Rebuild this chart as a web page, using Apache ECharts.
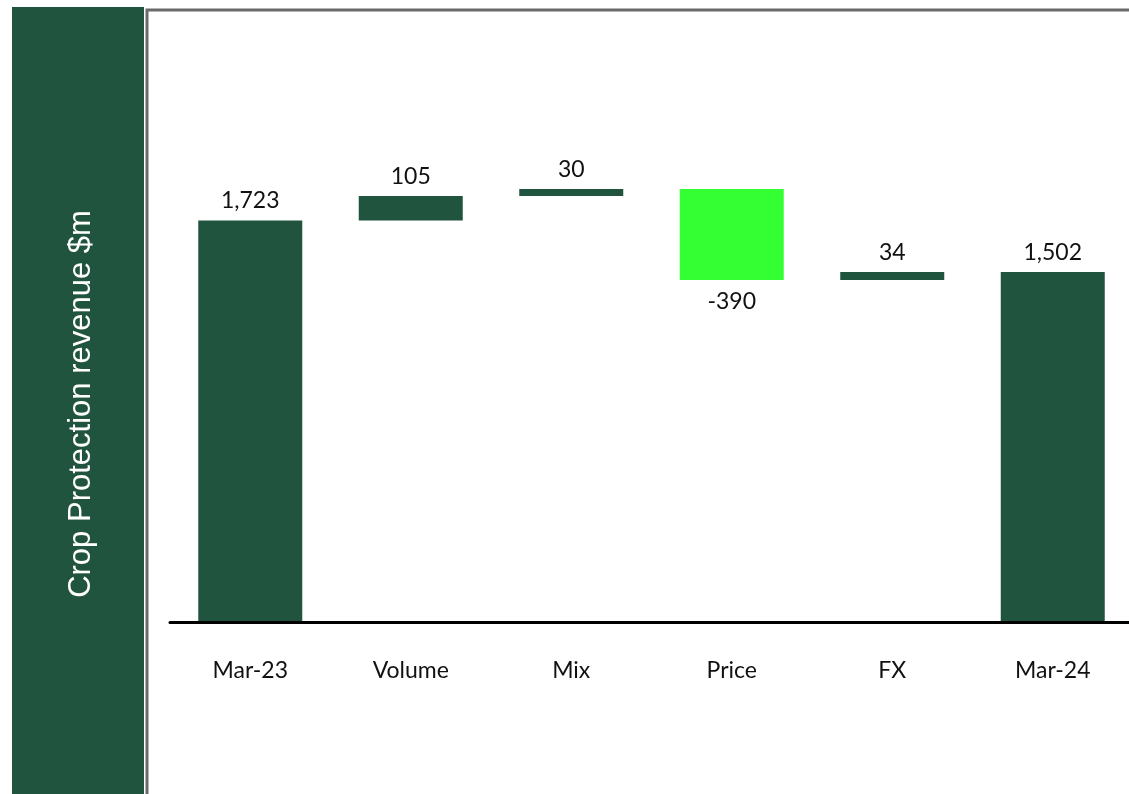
<!DOCTYPE html>
<html>
<head>
<meta charset="utf-8">
<script src="https://cdn.jsdelivr.net/npm/echarts@6/dist/echarts.min.js"></script>
<style>
  html, body { margin: 0; padding: 0; background: #fff; overflow: hidden; }
  #chart { width: 1133px; height: 794px; }
</style>
</head>
<body>
<div id="chart"></div>
<script>
// waterfall data
var categories = ['Mar-23', 'Volume', 'Mix', 'Price', 'FX', 'Mar-24'];
var changes = [1723, 105, 30, -390, 34, 1502];
var isTotal = [true, false, false, false, false, true];
var axisTitle = 'Crop Protection revenue $m';

var darkGreen = '#21543f';
var brightGreen = '#33ff33';

// build the invisible base + visible pieces
var baseData = [], upData = [], downData = [];
var running = 0;
for (var i = 0; i < changes.length; i++) {
	var v = changes[i];
	if (isTotal[i]) {
		baseData.push(0);
		upData.push(v);
		downData.push('-');
		running = v;
	} else if (v >= 0) {
		baseData.push(running);
		upData.push(v);
		downData.push('-');
		running += v;
	} else {
		running += v;
		baseData.push(running);
		upData.push('-');
		downData.push(-v);
	}
}

var chart = echarts.init(document.getElementById('chart'));
var option = {
	animation: false,
	textStyle: { fontFamily: 'Lato, "Open Sans", sans-serif' },
	graphic: [
		{   // frame
			type: 'rect', z: 0,
			shape: { x: 147, y: 10, width: 1010, height: 800 },
			style: { fill: '#fff', stroke: '#6a6a6a', lineWidth: 3 }
		},
		{   // left panel
			type: 'rect', z: 1,
			shape: { x: 12, y: 7, width: 132, height: 800 },
			style: { fill: darkGreen }
		},
		{
			type: 'text', z: 2,
			x: 81, y: 404, rotation: Math.PI / 2,
			style: {
				text: axisTitle,
				fill: '#fff',
				font: '31px "Liberation Sans", Arial, sans-serif',
				textAlign: 'center',
				textVerticalAlign: 'middle'
			}
		}
	],
	grid: { left: 170, top: 156, right: 0, bottom: 172, containLabel: false },
	xAxis: {
		type: 'category',
		data: categories,
		axisLine: { lineStyle: { color: '#000', width: 3 } },
		axisTick: { show: false },
		axisLabel: { color: '#111', fontSize: 23, margin: 37 },
		z: 10
	},
	yAxis: {
		type: 'value', min: 0, max: 2000,
		show: false,
		splitLine: { show: false }
	},
	series: [
		{
			name: 'base', type: 'bar', stack: 'w',
			barWidth: 104,
			itemStyle: { color: 'rgba(0,0,0,0)' },
			emphasis: { disabled: true },
			data: baseData
		},
		{
			name: 'up', type: 'bar', stack: 'w',
			barWidth: 104,
			itemStyle: { color: darkGreen },
			label: {
				show: true, position: 'top', distance: 8,
				color: '#111', fontSize: 23,
				formatter: function (p) { return Number(p.value).toLocaleString('en-US'); }
			},
			data: upData
		},
		{
			name: 'down', type: 'bar', stack: 'w',
			barWidth: 104,
			itemStyle: { color: brightGreen },
			label: {
				show: true, position: 'bottom', distance: 10,
				color: '#111', fontSize: 23,
				formatter: function (p) { return '-' + Number(p.value).toLocaleString('en-US'); }
			},
			data: downData
		}
	]
};
chart.setOption(option);
</script>
</body>
</html>
